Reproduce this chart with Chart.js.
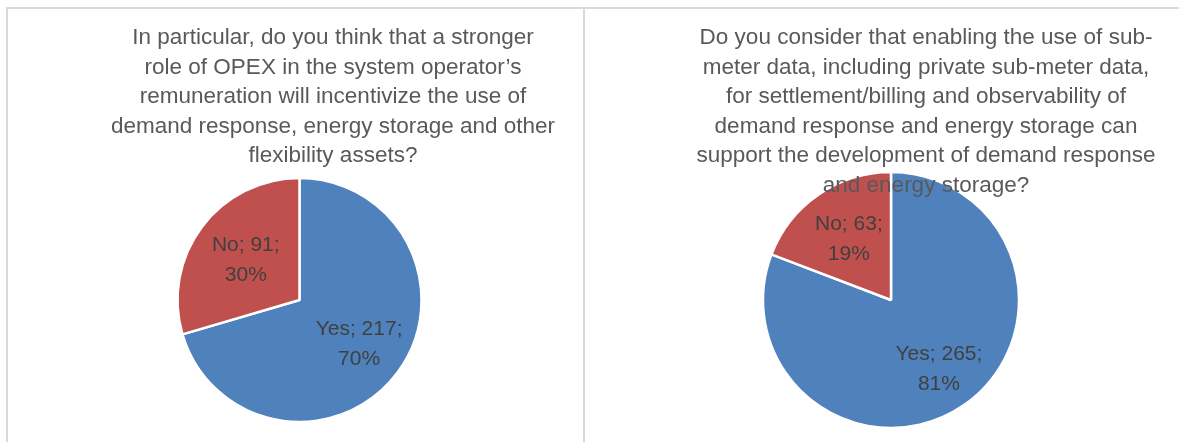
<!DOCTYPE html>
<html lang="en">
  <head>
    <meta charset="UTF-8" />
    <title>Survey answers</title>
    <style>
      body {
        margin: 0;
        background: #ffffff;
        width: 1179px;
        height: 442px;
        overflow: hidden;
        position: relative;
      }
      .panel {
        position: absolute;
        top: 7px;
        height: 435px;
        box-sizing: border-box;
        border-top: 2px solid #d9d9d9;
        border-left: 2px solid #d9d9d9;
      }
      #leftPanel {
        left: 6px;
        width: 577px;
      }
      #rightPanel {
        left: 583px;
        width: 596px;
      }
      .panel canvas {
        display: block;
      }
    </style>
  </head>
  <body>
    <div class="panel" id="leftPanel"><canvas id="opexChart"></canvas></div>
    <div class="panel" id="rightPanel"><canvas id="subMeterChart"></canvas></div>

    <script src="https://cdn.jsdelivr.net/npm/chart.js"></script>
    <script>
      // answers
      const categories = ["Yes", "No"];
      const opexValues = [217, 91];
      const subMeterValues = [265, 63];
      const sliceColors = ["#4f81bd", "#c0504d"];

      const opexTitle = [
        "In particular, do you think that a stronger",
        "role of OPEX in the system operator\u2019s",
        "remuneration will incentivize the use of",
        "demand response, energy storage and other",
        "flexibility assets?",
      ];
      const subMeterTitle = [
        "Do you consider that enabling the use of sub-",
        "meter data, including private sub-meter data,",
        "for settlement/billing and observability of",
        "demand response and energy storage can",
        "support the development of demand response",
        "and energy storage?",
      ];

      const TITLE_FONT = "22.5px 'Liberation Sans', Arial, sans-serif";
      const LABEL_FONT = "21px 'Liberation Sans', Arial, sans-serif";

      // "Yes; 217; 70%" style labels inside the slices
      const sliceLabels = {
        id: "sliceLabels",
        afterDatasetsDraw(chart, args, opts) {
          const ctx = chart.ctx;
          const values = chart.data.datasets[0].data;
          const total = values.reduce((a, b) => a + b, 0);
          const arcs = chart.getDatasetMeta(0).data;
          ctx.save();
          ctx.font = LABEL_FONT;
          ctx.fillStyle = "#404040";
          ctx.textAlign = "center";
          ctx.textBaseline = "middle";
          arcs.forEach((arc, i) => {
            const mid = (arc.startAngle + arc.endAngle) / 2;
            const r = arc.outerRadius * opts.dist[i];
            const x = arc.x + Math.cos(mid) * r;
            const y = arc.y + Math.sin(mid) * r;
            const pct = Math.round((values[i] / total) * 100);
            ctx.fillText(chart.data.labels[i] + "; " + values[i] + ";", x, y - 15);
            ctx.fillText(pct + "%", x, y + 15);
          });
          ctx.restore();
        },
      };

      // question text, drawn over the pie like in the original sheet
      const questionTitle = {
        id: "questionTitle",
        afterDraw(chart, args, opts) {
          const ctx = chart.ctx;
          ctx.save();
          ctx.font = TITLE_FONT;
          ctx.fillStyle = "#595959";
          ctx.textAlign = "center";
          ctx.textBaseline = "alphabetic";
          opts.lines.forEach((line, i) => {
            ctx.fillText(line, opts.x, opts.y + i * 29.5);
          });
          ctx.restore();
        },
      };

      function makePie(canvasId, values, title, box) {
        const canvas = document.getElementById(canvasId);
        canvas.width = box.w;
        canvas.height = box.h;
        canvas.style.width = box.w + "px";
        canvas.style.height = box.h + "px";
        return new Chart(canvas, {
          type: "pie",
          data: {
            labels: categories,
            datasets: [
              {
                data: values,
                backgroundColor: sliceColors,
                borderColor: "#ffffff",
                borderWidth: 2.5,
              },
            ],
          },
          options: {
            responsive: false,
            animation: false,
            radius: box.r,
            layout: {
              padding: {
                left: box.cx - box.r,
                right: box.w - box.cx - box.r,
                top: box.cy - box.r,
                bottom: box.h - box.cy - box.r,
              },
            },
            plugins: {
              legend: { display: false },
              tooltip: { enabled: false },
              questionTitle: { lines: title, x: box.tx, y: 35 },
              sliceLabels: { dist: box.labelDist },
            },
          },
          plugins: [sliceLabels, questionTitle],
        });
      }

      makePie("opexChart", opexValues, opexTitle, {
        w: 575, h: 433, cx: 291.5, cy: 291, r: 122, tx: 325,
        labelDist: [0.61, 0.55],
      });
      makePie("subMeterChart", subMeterValues, subMeterTitle, {
        w: 594, h: 433, cx: 306, cy: 291, r: 128, tx: 341,
        labelDist: [0.66, 0.58],
      });
    </script>
  </body>
</html>
